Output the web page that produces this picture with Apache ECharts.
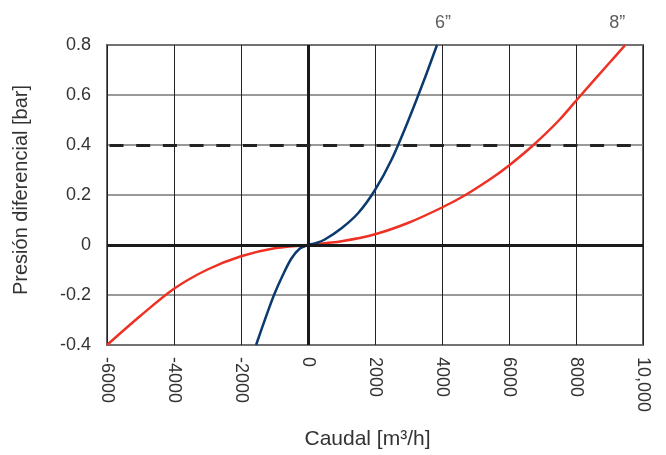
<!DOCTYPE html>
<html>
<head>
<meta charset="utf-8">
<script src="https://cdn.jsdelivr.net/npm/echarts@6/dist/echarts.min.js"></script>
<style>html,body{margin:0;padding:0;background:#fff}#c{width:666px;height:455px}</style>
</head>
<body>
<div id="c"></div>
<script>
// Data
var series6Name = '6\u201D';
var series8Name = '8\u201D';
var series6 = [[-1550,-0.4],[-1250,-0.285],[-1000,-0.195],[-750,-0.12],[-500,-0.055],[-250,-0.015],[0,0],[250,0.008],[500,0.022],[1000,0.067],[1500,0.128],[2000,0.22],[2500,0.343],[3000,0.5],[3500,0.672],[3850,0.8]];
var series8 = [[-6000,-0.4],[-5000,-0.283],[-4000,-0.175],[-3000,-0.098],[-2000,-0.045],[-1000,-0.013],[0,0],[1000,0.015],[2000,0.043],[3000,0.089],[4000,0.15],[4700,0.2],[5500,0.269],[6000,0.318],[6730,0.4],[7500,0.5],[8150,0.6],[9000,0.729],[9470,0.8]];
var xTicks = [-6000,-4000,-2000,0,2000,4000,6000,8000,10000];
var xTickLabels = ['-6000','-4000','-2000','0','2000','4000','6000','8000','10,000'];
var yTicks = [-0.4,-0.2,0,0.2,0.4,0.6,0.8];
var yTickLabels = ['-0.4','-0.2','0','0.2','0.4','0.6','0.8'];
var refLine = 0.4;
var xName = 'Caudal [m\u00B3/h]';
var yName = 'Presi\u00F3n diferencial [bar]';

function lookup(ticks, labels, v) {
  for (var i = 0; i < ticks.length; i++) {
    if (Math.abs(ticks[i] - v) < 1e-6) return labels[i];
  }
  return '';
}

var chart = echarts.init(document.getElementById('c'), null, { renderer: 'canvas' });
var font = 'Liberation Sans, Arial, sans-serif';
var endLabelStyle = { show: true, position: 'top', color: '#333', fontSize: 18, fontFamily: font };
chart.setOption({
  animation: false,
  grid: { left: 107, right: 23, top: 45, bottom: 110, show: true, borderColor: '#666', borderWidth: 2,
    containLabel: false, outerBoundsMode: 'none' },
  xAxis: {
    type: 'value', min: -6000, max: 10000, interval: 2000,
    name: xName, nameLocation: 'middle', nameGap: 84,
    nameTextStyle: { color: '#333', fontSize: 21, fontFamily: font, padding: [0, 15, 0, 0] },
    axisLine: { show: false }, axisTick: { show: false },
    axisLabel: { rotate: -90, margin: 12, color: '#333', fontSize: 18, fontFamily: font,
      formatter: function (v) { return lookup(xTicks, xTickLabels, v); } },
    splitLine: { show: true, lineStyle: { color: '#222', width: 1 } }
  },
  yAxis: {
    type: 'value', min: -0.4, max: 0.8, interval: 0.2,
    name: yName, nameLocation: 'middle', nameGap: 76,
    nameTextStyle: { color: '#333', fontSize: 20, fontFamily: font, padding: [0, 0, 0, 10] },
    axisLine: { show: false }, axisTick: { show: false },
    axisLabel: { margin: 16, color: '#333', fontSize: 18, fontFamily: font,
      formatter: function (v) { return lookup(yTicks, yTickLabels, v); } },
    splitLine: { show: true, lineStyle: { color: '#777', width: 1.5 } }
  },
  series: [
    {
      type: 'line', name: 'ref', data: [], silent: true,
      markLine: {
        silent: true, symbol: 'none', label: { show: false },
        data: [
          { yAxis: 0, lineStyle: { color: '#1a1a1a', width: 3, type: 'solid' } },
          { xAxis: 0, lineStyle: { color: '#1a1a1a', width: 3, type: 'solid' } },
          { yAxis: refLine, lineStyle: { color: '#222', width: 3, type: [14, 12.7], dashOffset: -2.5 } }
        ]
      }
    },
    {
      type: 'line', name: series8Name, data: series8,
      smooth: 0.3, showSymbol: false, symbol: 'none',
      lineStyle: { color: '#ee3124', width: 2.5 }, z: 3
    },
    {
      type: 'line', name: series6Name, data: series6,
      smooth: 0.3, showSymbol: false, symbol: 'none',
      lineStyle: { color: '#0b3a6e', width: 2.5 }, z: 4
    },
    {
      type: 'scatter', name: 'labels', clip: false, silent: true, symbolSize: 0, z: 5,
      data: [
        { value: series6[series6.length - 1], label: Object.assign({ formatter: series6Name, offset: [6, -8] }, endLabelStyle) },
        { value: series8[series8.length - 1], label: Object.assign({ formatter: series8Name, offset: [-8, -8] }, endLabelStyle) }
      ]
    }
  ]
});
</script>
</body>
</html>
